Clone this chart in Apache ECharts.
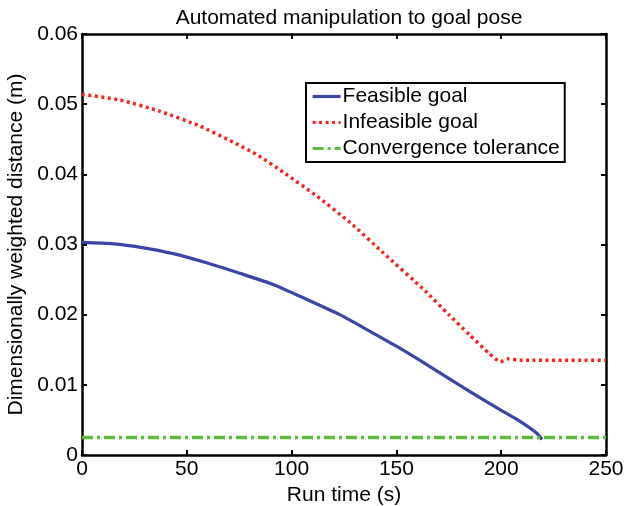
<!DOCTYPE html>
<html>
<head>
<meta charset="utf-8">
<script src="https://cdn.jsdelivr.net/npm/echarts@6/dist/echarts.min.js"></script>
<style>
  html, body { margin: 0; padding: 0; background: #fff; }
  #chart { width: 624px; height: 506px; }
</style>
</head>
<body>
<div id="chart"></div>
<script>
// Run time samples (s) and weighted distance (m) for each goal case
const feasibleTime = [0, 15, 28, 43.5, 59.4, 75.3, 91.2, 107, 123, 134, 150, 166, 182, 198, 209, 217, 219.5];
const feasibleDist = [0.0303, 0.0301, 0.0296, 0.0287, 0.0274, 0.0259, 0.0243, 0.0222, 0.0200, 0.0182, 0.0155, 0.0126, 0.0096, 0.0067, 0.0048, 0.0031, 0.0022];

const infeasibleTime = [0, 18, 37, 56, 72, 84, 96, 112, 128, 143, 164, 175, 185, 194.5, 199.7, 203, 210, 250];
const infeasibleDist = [0.0514, 0.0506, 0.0490, 0.0469, 0.0446, 0.0427, 0.0403, 0.0369, 0.0331, 0.0290, 0.0233, 0.0200, 0.0171, 0.0144, 0.0133, 0.0137, 0.0135, 0.0135];

const toleranceTime = [0, 250];
const toleranceDist = [0.0025, 0.0025];

const xTicks = [0, 50, 100, 150, 200, 250];
const yTicks = [0, 0.01, 0.02, 0.03, 0.04, 0.05, 0.06];

const pairs = (xs, ys) => xs.map((x, i) => [x, ys[i]]);

const FONT = 'Liberation Sans, Arial, sans-serif';
const FS = 21;
const chart = echarts.init(document.getElementById('chart'), null, { renderer: 'canvas' });

// Boxed frame: every side carries an axis line with inward ticks
const frameAxis = () => ({
  axisLine: { show: true, onZero: false, lineStyle: { color: '#000', width: 2.5 } },
  axisTick: { show: true, inside: true, length: 5, lineStyle: { color: '#000', width: 2 } },
  splitLine: { show: false }
});

chart.setOption({
  backgroundColor: '#fff',
  animation: false,
  title: {
    text: 'Automated manipulation to goal pose',
    left: 344, top: 3, textAlign: 'center',
    textStyle: { fontFamily: FONT, fontSize: FS, fontWeight: 'normal', color: '#000' }
  },
  grid: { left: 82, right: 18, top: 34, bottom: 51, containLabel: false, outerBoundsMode: 'none' },
  legend: {
    left: 306, top: 83,
    orient: 'vertical',
    itemWidth: 28, itemHeight: 14, itemGap: 5,
    padding: [3, 5, 3, 5],
    borderColor: '#000', borderWidth: 2,
    backgroundColor: '#fff',
    itemStyle: { opacity: 0 },
    lineStyle: { width: 3.2 },
    textStyle: { fontFamily: FONT, fontSize: FS, color: '#000', padding: [0, 0, 0, -3] },
    data: ['Feasible goal', 'Infeasible goal', 'Convergence tolerance']
  },
  xAxis: [
    Object.assign(frameAxis(), {
      type: 'value', min: 0, max: 250, interval: 50, position: 'bottom',
      name: 'Run time (s)', nameLocation: 'middle', nameGap: 26,
      nameTextStyle: { fontFamily: FONT, fontSize: FS, color: '#000' },
      axisLabel: { fontFamily: FONT, fontSize: FS, color: '#000', margin: 4,
        formatter: v => xTicks.includes(v) ? String(v) : '' }
    }),
    Object.assign(frameAxis(), {
      type: 'value', min: 0, max: 250, interval: 50, position: 'top',
      axisLabel: { show: false }
    })
  ],
  yAxis: [
    Object.assign(frameAxis(), {
      type: 'value', min: 0, max: 0.06, interval: 0.01, position: 'left',
      name: 'Dimensionally weighted distance (m)', nameLocation: 'middle', nameGap: 50,
      nameTextStyle: { fontFamily: FONT, fontSize: FS, color: '#000' },
      axisLabel: { fontFamily: FONT, fontSize: FS, color: '#000', margin: 4,
        formatter: v => {
          const t = yTicks.find(y => Math.abs(y - v) < 1e-9);
          if (t === undefined) return '';
          return t === 0 ? '0' : t.toFixed(2);
        } }
    }),
    Object.assign(frameAxis(), {
      type: 'value', min: 0, max: 0.06, interval: 0.01, position: 'right',
      axisLabel: { show: false }
    })
  ],
  series: [
    {
      name: 'Feasible goal', type: 'line', showSymbol: false, symbol: 'none', smooth: 0.2,
      data: pairs(feasibleTime, feasibleDist),
      lineStyle: { color: '#3A45A5', width: 3.2, type: 'solid' },
      itemStyle: { color: '#3A45A5' }
    },
    {
      name: 'Infeasible goal', type: 'line', showSymbol: false, symbol: 'none', smooth: 0.2,
      data: pairs(infeasibleTime, infeasibleDist),
      lineStyle: { color: '#F5231E', width: 3.5, type: [3, 3.5] },
      itemStyle: { color: '#F5231E' }
    },
    {
      name: 'Convergence tolerance', type: 'line', showSymbol: false, symbol: 'none',
      data: pairs(toleranceTime, toleranceDist),
      lineStyle: { color: '#5DBB3C', width: 3.5, type: [11, 4, 3, 4] },
      itemStyle: { color: '#5DBB3C' }
    }
  ]
});
</script>
</body>
</html>
